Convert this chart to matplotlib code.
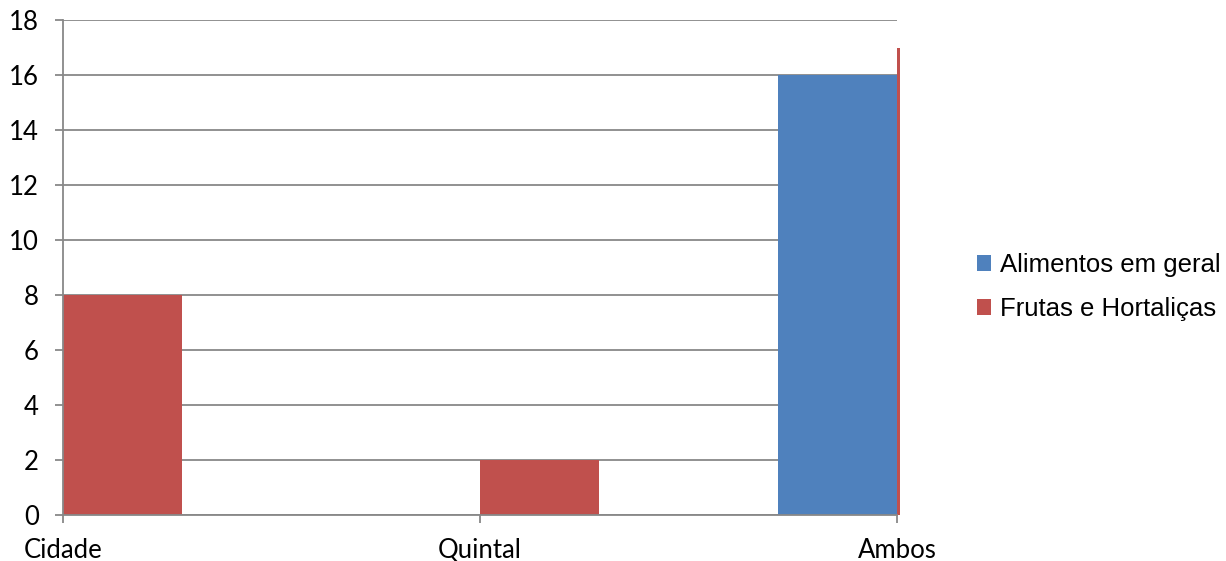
import numpy as np
import matplotlib.pyplot as plt
from matplotlib.patches import Rectangle

# Dados
categorias = ['Cidade', 'Quintal', 'Ambos']
alimentos_geral = [0, 0, 16]
frutas_hortalicas = [8, 2, 17]

azul = '#4F81BD'
vermelho = '#C0504D'
cinza = '#888888'

fig = plt.figure(figsize=(12.26, 5.61), dpi=100)
ax = fig.add_axes([63 / 1226, 46 / 561, 834 / 1226, 495 / 561])

x = np.arange(len(categorias))
largura = 0.285
b1 = ax.bar(x - largura / 2, alimentos_geral, largura, color=azul, label='Alimentos em geral', zorder=3)
b2 = ax.bar(x + largura / 2, frutas_hortalicas, largura, color=vermelho, label='Frutas e Hortaliças', zorder=3)

# recorte um pouco além da borda direita
clip = Rectangle((0, 0), 1.004, 1.0, transform=ax.transAxes, facecolor='none')
for b in list(b1) + list(b2):
    b.set_clip_path(clip)

ax.set_xlim(0, 2)
ax.set_ylim(0, 18)
ax.set_yticks(range(0, 19, 2))
ax.set_xticks(x)
ax.set_xticklabels(categorias)

ax.yaxis.grid(True, color=cinza, linewidth=1.3, zorder=1)
ax.set_axisbelow(True)
for s in ['top', 'right']:
    ax.spines[s].set_visible(False)
for s in ['left', 'bottom']:
    ax.spines[s].set_color(cinza)
    ax.spines[s].set_linewidth(1.3)
    ax.spines[s].set_zorder(4)

ax.tick_params(axis='y', length=5.5, width=1.3, color=cinza, pad=12, labelsize=18.5)
ax.tick_params(axis='x', length=5.5, width=1.3, color=cinza, pad=11, labelsize=18.5)
for lbl in ax.get_xticklabels() + ax.get_yticklabels():
    lbl.set_family(['Lato', 'DejaVu Sans'])

leg = ax.legend(loc='center left', bbox_to_anchor=(1.068, 0.46), frameon=False,
                prop={'family': 'Liberation Sans', 'size': 18.5},
                handlelength=0.55, handleheight=0.55, handletextpad=0.35, labelspacing=0.78)

fig.savefig('out.png', dpi=100)
